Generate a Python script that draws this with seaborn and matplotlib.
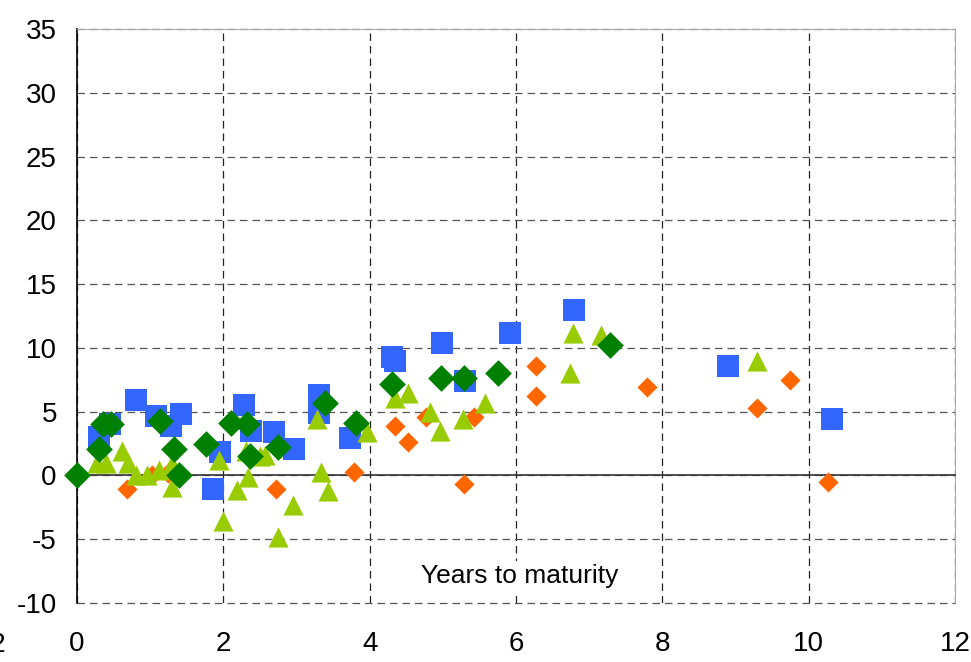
import matplotlib
matplotlib.use("Agg")
import matplotlib.pyplot as plt
import seaborn as sns

# data (years to maturity, value)
blue_x = [0.30, 0.45, 0.81, 1.08, 1.29, 1.42, 1.86, 1.95, 2.28, 2.38, 2.69, 2.97,
          3.31, 3.31, 3.73, 4.30, 4.35, 4.99, 5.30, 5.92, 6.79, 8.90, 10.32]
blue_y = [3.05, 4.0, 5.95, 4.7, 3.9, 4.85, -1.1, 1.8, 5.55, 3.5, 3.4, 2.1,
          6.3, 4.9, 2.9, 9.3, 9.0, 10.4, 7.4, 11.2, 13.0, 8.6, 4.4]

orange_x = [0.68, 1.02, 1.25, 2.72, 3.79, 4.35, 4.53, 4.77, 5.42, 5.29, 6.28, 6.28,
            7.79, 9.29, 9.75, 10.27]
orange_y = [-1.1, 0.0, 0.2, -1.1, 0.25, 3.85, 2.6, 4.6, 4.6, -0.65, 8.6, 6.25,
            6.9, 5.3, 7.5, -0.5]

tri_x = [0.28, 0.40, 0.62, 0.70, 0.80, 0.95, 1.12, 1.30, 1.30, 1.94, 2.00, 2.19,
         2.34, 2.31, 2.50, 2.57, 2.95, 2.75, 3.28, 3.33, 3.43, 3.96, 4.34, 4.52,
         4.82, 4.96, 5.27, 5.57, 6.78, 6.74, 7.16, 9.29]
tri_y = [1.0, 1.0, 1.9, 1.0, 0.0, 0.0, 0.4, -0.9, 0.9, 1.2, -3.55, -1.15,
         -0.1, 1.9, 1.5, 1.6, -2.35, -4.8, 4.4, 0.3, -1.25, 3.4, 6.1, 6.5,
         5.0, 3.5, 4.4, 5.65, 11.2, 8.0, 11.0, 9.0]

green_x = [0.0, 0.30, 0.35, 0.47, 1.13, 1.33, 1.40, 1.76, 2.10, 2.32, 2.36, 2.75,
           3.39, 3.82, 4.30, 4.98, 5.29, 5.75, 7.28]
green_y = [0.0, 2.05, 4.05, 4.05, 4.3, 2.05, 0.0, 2.5, 4.15, 4.0, 1.5, 2.2,
           5.65, 4.15, 7.15, 7.65, 7.65, 8.0, 10.25]

x_ticks = [0, 2, 4, 6, 8, 10, 12]
y_ticks = [-10, -5, 0, 5, 10, 15, 20, 25, 30, 35]
x_title = "Years to maturity"

sns.set_style("white")
plt.rcParams["font.family"] = ["Liberation Sans", "DejaVu Sans"]
plt.rcParams["axes.unicode_minus"] = False
plt.rcParams["text.color"] = "black"
plt.rcParams["xtick.color"] = "black"
plt.rcParams["ytick.color"] = "black"

fig = plt.figure(figsize=(9.71, 6.62), dpi=100)
ax = fig.add_axes([0.0793, 0.0891, 0.9042, 0.8671])

sns.scatterplot(x=blue_x, y=blue_y, marker="s", s=262, color="#3366FF", linewidth=0, ax=ax, zorder=3)
sns.scatterplot(x=orange_x, y=orange_y, marker="D", s=105, color="#FF6600", linewidth=0, ax=ax, zorder=4)
sns.scatterplot(x=tri_x, y=tri_y, marker="^", s=210, color="#99CC00", linewidth=0, ax=ax, zorder=5)
sns.scatterplot(x=green_x, y=green_y, marker="D", s=185, color="#008000", linewidth=0, ax=ax,
                zorder=6, clip_on=False)

ax.set_xlim(0, 12)
ax.set_ylim(-10, 35)
ax.set_xticks(x_ticks)
ax.set_yticks(y_ticks)

# gridlines
ax.grid(False)
ax.yaxis.grid(True, linestyle=(0, (6, 4)), color="#555555", linewidth=0.9)
ax.xaxis.grid(True, linestyle=(0, (6, 4)), color="#222222", linewidth=0.9)
ax.set_axisbelow(True)
for gl in ax.get_ygridlines():
    gl.set_clip_on(False)

# spines: y axis black, x axis crossing at zero
ax.spines["left"].set_color("black")
ax.spines["left"].set_linewidth(1.2)
ax.spines["top"].set_color("#aaaaaa")
ax.spines["right"].set_color("#aaaaaa")
ax.spines["bottom"].set_position(("data", 0))
ax.spines["bottom"].set_color("#333333")
ax.spines["bottom"].set_linewidth(1.2)

ax.tick_params(axis="y", direction="out", length=6.5, width=1, color="#444444",
               labelsize=20, pad=8)
ax.tick_params(axis="x", direction="inout", length=6, width=1, color="#333333",
               labelbottom=False)

sec = ax.secondary_xaxis(0)
sec.set_xticks(x_ticks)
sec.spines["bottom"].set_visible(False)
sec.tick_params(axis="x", length=0, labelsize=20, pad=20)

ax.set_xlabel("")
ax.set_ylabel("")
ax.text(6.05, -7.9, x_title, ha="center", va="center", fontsize=19,
        bbox=dict(facecolor="white", edgecolor="none", pad=2), zorder=7)

# cut-off "-2" label at the far left edge
fig.text(0.007, 0.026, "-2", ha="right", va="center", fontsize=20)

fig.savefig("out.png", dpi=100)
